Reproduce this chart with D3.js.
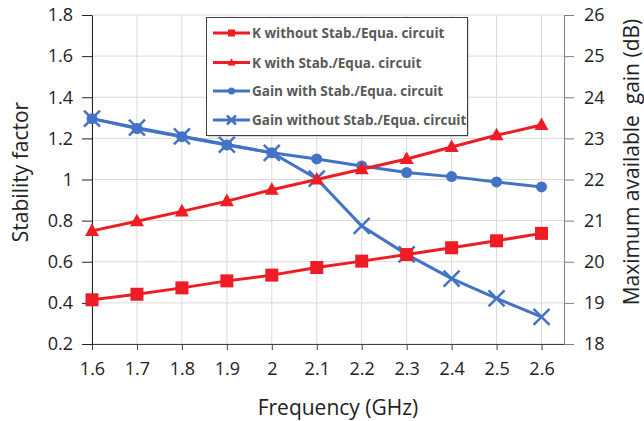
<!DOCTYPE html>
<html><head><meta charset="utf-8">
<script src="https://cdn.jsdelivr.net/npm/d3@7"></script>
<style>body{margin:0;background:#fff}svg{display:block}text{font-family:"Open Sans",sans-serif}</style>
</head><body><svg id="c" width="644" height="421"></svg>
<script>
const freq = [1.6,1.7,1.8,1.9,2.0,2.1,2.2,2.3,2.4,2.5,2.6];
const kWithout = [0.415,0.442,0.473,0.507,0.535,0.572,0.603,0.635,0.668,0.702,0.738];
const kWith = [0.75,0.797,0.845,0.895,0.95,1.0,1.05,1.10,1.158,1.215,1.265];
const gainWith = [23.48,23.24,23.04,22.84,22.65,22.50,22.33,22.17,22.07,21.94,21.82];
const gainWithout = [23.48,23.26,23.05,22.85,22.65,22.02,20.87,20.18,19.59,19.11,18.66];
const xTicks = [1.6,1.7,1.8,1.9,2.0,2.1,2.2,2.3,2.4,2.5,2.6];
const yLeftTicks = [0.2,0.4,0.6,0.8,1.0,1.2,1.4,1.6,1.8];
const yRightTicks = [18,19,20,21,22,23,24,25,26];
const seriesNames = ["K without Stab./Equa. circuit","K with Stab./Equa. circuit","Gain with Stab./Equa. circuit","Gain without Stab./Equa. circuit"];

const svg = d3.select("#c");
const L=92, R=564, T=15, B=344;
const x = d3.scaleLinear().domain([1.6,2.65]).range([L,R]);
const yL = d3.scaleLinear().domain([0.2,1.8]).range([B,T]);
const yR = d3.scaleLinear().domain([18,26]).range([B,T]);
const RED="#ee1c25", BLUE="#4472c4";

// grid
svg.append("g").selectAll("line").data(yLeftTicks).join("line")
  .attr("x1",L).attr("x2",R).attr("y1",d=>yL(d)).attr("y2",d=>yL(d))
  .attr("stroke","#d9d9d9").attr("stroke-width",1);
svg.append("g").selectAll("line").data(xTicks).join("line")
  .attr("x1",d=>x(d)).attr("x2",d=>x(d)).attr("y1",T).attr("y2",B)
  .attr("stroke","#d9d9d9").attr("stroke-width",1);

// axes
const gx = svg.append("g").attr("transform",`translate(0,${B})`)
  .call(d3.axisBottom(x).tickValues(xTicks).tickFormat(d=>Math.abs(d-2)<1e-9?"2":d3.format(".1f")(d)).tickSize(6).tickSizeOuter(0).tickPadding(12));
const gl = svg.append("g").attr("transform",`translate(${L},0)`)
  .call(d3.axisLeft(yL).tickValues(yLeftTicks).tickFormat(d=>Math.abs(d-1)<1e-9?"1":d3.format(".1f")(d)).tickSize(10).tickSizeOuter(0).tickPadding(9));
const gr = svg.append("g").attr("transform",`translate(${R},0)`)
  .call(d3.axisRight(yR).tickValues(yRightTicks).tickSize(10).tickSizeOuter(0).tickPadding(10));
[gx,gl,gr].forEach(g=>{
  g.selectAll("text").attr("font-size",18).attr("fill","#222").style("font-family","'Open Sans',sans-serif");
});
gx.select(".domain").attr("stroke","#404040");
gx.selectAll(".tick line").attr("stroke","#404040");
gl.select(".domain").attr("stroke","#222");
gl.selectAll(".tick line").attr("stroke","#222");
gr.select(".domain").attr("stroke","#808080");
gr.selectAll(".tick line").attr("stroke","#808080");

// titles
svg.append("text").attr("transform","translate(28,172) rotate(-90)").attr("text-anchor","middle")
  .attr("font-size",21).attr("fill","#222").text("Stability factor");
svg.append("text").attr("transform","translate(639,162) rotate(-90)").attr("text-anchor","middle")
  .attr("font-size",21).attr("fill","#222").style("white-space","pre").text("Maximum available  gain (dB)");
svg.append("text").attr("x",338).attr("y",415).attr("text-anchor","middle")
  .attr("font-size",21).attr("fill","#222").text("Frequency (GHz)");

// markers
function marker(g, type, cx, cy, s, color){
  if(type==="square"){
    g.append("rect").attr("x",cx-s/2).attr("y",cy-s/2).attr("width",s).attr("height",s).attr("fill",color);
  } else if(type==="triangle"){
    const h=s*0.9;
    g.append("path").attr("d",`M${cx},${cy-h*0.6}L${cx+s/2},${cy+h*0.4}L${cx-s/2},${cy+h*0.4}Z`).attr("fill",color);
  } else if(type==="circle"){
    g.append("circle").attr("cx",cx).attr("cy",cy).attr("r",s/2).attr("fill",color);
  } else if(type==="x"){
    const r=s/2;
    g.append("path").attr("d",`M${cx-r},${cy-r}L${cx+r},${cy+r}M${cx-r},${cy+r}L${cx+r},${cy-r}`)
      .attr("stroke",color).attr("stroke-width",2.5).attr("fill","none");
  }
}
const series = [
  {vals:kWithout, y:yL, color:RED, m:"square", s:13},
  {vals:kWith, y:yL, color:RED, m:"triangle", s:14},
  {vals:gainWith, y:yR, color:BLUE, m:"circle", s:11},
  {vals:gainWithout, y:yR, color:BLUE, m:"x", s:16}
];
const drawOrder=[3,2,1,0];
drawOrder.forEach(i=>{
  const s=series[i];
  const g=svg.append("g");
  const line=d3.line().x((d,j)=>x(freq[j])).y(d=>s.y(d));
  g.append("path").datum(s.vals).attr("d",line).attr("fill","none").attr("stroke",s.color).attr("stroke-width",3);
  s.vals.forEach((v,j)=>marker(g,s.m,x(freq[j]),s.y(v),s.s,s.color));
});

// legend
const lg = svg.append("g");
lg.append("rect").attr("x",208).attr("y",19).attr("width",261).attr("height",118).attr("fill","#bfbfbf").attr("opacity",0.6);
lg.append("rect").attr("x",206.5).attr("y",17.5).attr("width",261).attr("height",118).attr("fill","#fff").attr("stroke","#404040").attr("stroke-width",1);
const ly=[33,62.5,91,120];
series.forEach((s,i)=>{
  lg.append("line").attr("x1",213).attr("x2",250).attr("y1",ly[i]).attr("y2",ly[i]).attr("stroke",s.color).attr("stroke-width",3);
  marker(lg,s.m,231.5,ly[i],s.m==="x"?9:(s.m==="triangle"?8:7),s.color);
  lg.append("text").attr("x",252).attr("y",ly[i]+5).attr("font-size",13.5).attr("font-weight","bold").attr("fill","#595959").text(seriesNames[i]);
});
</script></body></html>
